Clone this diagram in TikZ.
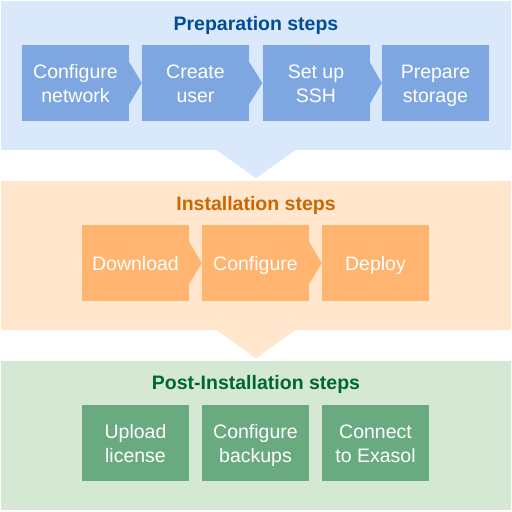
\documentclass[tikz,border=0pt]{standalone}
\usepackage{fontspec}
\setmainfont{Liberation Sans}
\usetikzlibrary{calc}
\definecolor{bluebg}{RGB}{218,232,252}
\definecolor{bluebox}{RGB}{126,166,224}
\definecolor{bluetitle}{RGB}{0,76,153}
\definecolor{orangebg}{RGB}{255,230,204}
\definecolor{orangebox}{RGB}{255,181,112}
\definecolor{orangetitle}{RGB}{204,102,0}
\definecolor{greenbg}{RGB}{213,232,212}
\definecolor{greenbox}{RGB}{105,170,128}
\definecolor{greentitle}{RGB}{0,102,51}
\begin{document}
\begin{tikzpicture}[x=1pt,y=-1pt,
  panel/.style={draw=none, inner sep=0pt, minimum width=510pt, minimum height=149pt},
  title/.style={font=\fontsize{19.5}{24}\selectfont\bfseries, anchor=base, inner sep=0pt},
  boxbase/.style={draw=none, inner sep=0pt, minimum width=107pt, minimum height=76pt,
    text=white, align=center, font=\fontsize{19.5}{24}\selectfont},
  twoline/.style={boxbase, text height=38pt, text depth=0pt},
  oneline/.style={boxbase, text height=14pt, text depth=0pt}]
\useasboundingbox (0,0) rectangle (512,512);
% panels
\node[panel, fill=bluebg] (P1) at (256,75.5) {};
\node[panel, fill=orangebg] (P2) at (256,255.5) {};
\node[panel, fill=greenbg] (P3) at (256,435.5) {};
% pointers
\fill[bluebg] ($(P1.south)+(-40,-0.5)$) -- ($(P1.south)+(0,28)$) -- ($(P1.south)+(40,-0.5)$) -- cycle;
\fill[orangebg] ($(P2.south)+(-40,-0.5)$) -- ($(P2.south)+(0,28)$) -- ($(P2.south)+(40,-0.5)$) -- cycle;
% titles
\node[title, text=bluetitle] (T1) at (256,30) {Preparation steps};
\node[title, text=orangetitle] (T2) at (256,210) {Installation steps};
\node[title, text=greentitle] (T3) at (256,389.5) {Post-Installation steps};
% row 1
\node[twoline, fill=bluebox] (a1) at (75.5,83) {Configure\\network};
\node[twoline, fill=bluebox] (a2) at (195.5,83) {Create\\user};
\node[twoline, fill=bluebox] (a3) at (316,83) {Set up\\SSH};
\node[twoline, fill=bluebox] (a4) at (435.5,83) {Prepare\\storage};
\foreach \s/\t in {a1/a2,a2/a3,a3/a4}{
  \fill[bluebox] ($(\s.east)+(-0.5,-21)$) -- ($(\s.east)+(0,-21)$) -- (\t.west) -- ($(\s.east)+(0,21)$) -- ($(\s.east)+(-0.5,21)$) -- cycle;
}
% row 2
\node[oneline, fill=orangebox] (b1) at (135.5,263) {Download};
\node[oneline, fill=orangebox] (b2) at (255.5,263) {Configure};
\node[oneline, fill=orangebox] (b3) at (375.5,263) {Deploy};
\foreach \s/\t in {b1/b2,b2/b3}{
  \fill[orangebox] ($(\s.east)+(-0.5,-21)$) -- ($(\s.east)+(0,-21)$) -- (\t.west) -- ($(\s.east)+(0,21)$) -- ($(\s.east)+(-0.5,21)$) -- cycle;
}
% row 3
\node[twoline, fill=greenbox] (c1) at (135.5,443) {Upload\\license};
\node[twoline, fill=greenbox] (c2) at (255.5,443) {Configure\\backups};
\node[twoline, fill=greenbox] (c3) at (375.5,443) {Connect\\to Exasol};
\end{tikzpicture}
\end{document}
